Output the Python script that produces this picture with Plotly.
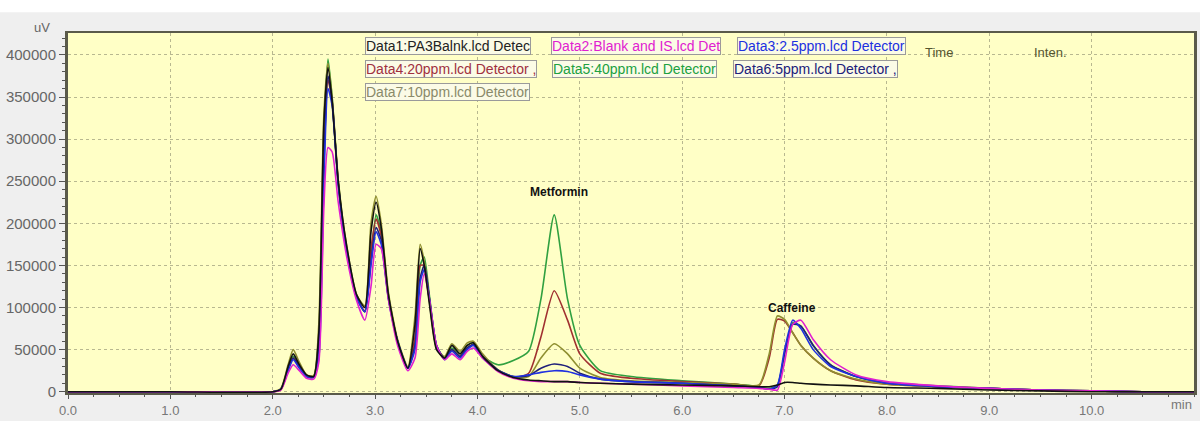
import plotly.graph_objects as go

# ---------------- data (retention time in min, intensity in thousand uV) ----------------
time_min = [0.0, 1.0, 2.0, 2.08, 2.15, 2.2, 2.26, 2.33, 2.4, 2.45,
            2.5, 2.54, 2.58, 2.64, 2.72, 2.82, 2.9, 2.96, 3.01, 3.06,
            3.13, 3.22, 3.32, 3.39, 3.44, 3.48, 3.53, 3.6, 3.68, 3.75,
            3.83, 3.9, 3.96, 4.05, 4.2, 4.35, 4.5, 4.62, 4.75, 4.88,
            5.0, 5.2, 5.5, 6.0, 6.5, 6.75, 6.85, 6.93, 7.0, 7.08,
            7.16, 7.28, 7.45, 7.7, 8.0, 8.5, 9.0, 9.5, 10.0, 10.5, 11.0]

data1_blank = [0, 0, 0, 3, 30, 45, 32, 20, 18, 70,
               320, 385, 345, 250, 175, 115, 100, 190, 225, 195,
               115, 60, 28, 80, 170, 150, 105, 50, 40, 55,
               45, 55, 58, 42, 25, 17, 14, 13, 12, 12,
               11, 10, 9, 8, 7, 6, 6, 8, 11, 11,
               10, 9, 8, 7, 5, 4, 2, 1, 0, 0, 0]

data2_blank_is = [0, 0, 0, 2, 22, 32, 25, 16, 15, 35,
                  220, 290, 285, 225, 162, 108, 85, 125, 175, 170,
                  110, 55, 25, 40, 110, 140, 110, 55, 38, 45,
                  38, 48, 52, 40, 24, 16, 13, 12, 12, 12,
                  11, 10, 9, 7, 5, 4, 3, 2, 35, 80,
                  85, 62, 38, 20, 12, 7, 4, 2, 1, 0, 0]

data3_2_5ppm = [0, 0, 0, 3, 25, 38, 28, 18, 17, 40,
                250, 360, 340, 245, 170, 112, 95, 150, 190, 175,
                110, 60, 28, 50, 130, 145, 110, 55, 38, 48,
                40, 50, 55, 40, 25, 18, 20, 23, 25, 24,
                20, 15, 12, 10, 7, 5, 3, 8, 50, 85,
                75, 50, 30, 18, 10, 6, 4, 2, 1, 0, 0]

data4_20ppm = [0, 0, 0, 3, 27, 40, 30, 19, 18, 55,
               280, 370, 345, 247, 170, 112, 96, 170, 205, 185,
               112, 60, 28, 65, 150, 150, 110, 52, 39, 50,
               42, 52, 56, 42, 25, 17, 22, 65, 120, 85,
               45, 22, 16, 12, 9, 7, 40, 86, 84, 70,
               55, 40, 25, 14, 9, 6, 4, 2, 1, 0, 0]

data5_40ppm = [0, 0, 0, 3, 28, 42, 30, 19, 18, 65,
               310, 395, 350, 250, 170, 112, 95, 160, 210, 190,
               115, 60, 28, 60, 150, 160, 115, 55, 40, 52,
               45, 55, 58, 42, 32, 37, 48, 110, 210, 110,
               55, 25, 18, 13, 9, 6, 4, 8, 45, 82,
               78, 55, 32, 18, 11, 7, 4, 2, 1, 0, 0]

data6_5ppm = [0, 0, 0, 3, 26, 40, 29, 18, 17, 50,
              270, 375, 345, 247, 170, 112, 95, 155, 195, 180,
              112, 60, 28, 55, 135, 150, 112, 55, 39, 50,
              42, 52, 56, 42, 26, 18, 19, 28, 33, 30,
              22, 15, 12, 10, 7, 5, 3, 6, 45, 80,
              78, 55, 32, 18, 10, 6, 4, 2, 1, 0, 0]

data7_10ppm = [0, 0, 0, 4, 32, 50, 35, 20, 19, 80,
               330, 390, 350, 252, 175, 115, 102, 200, 232, 200,
               118, 62, 30, 90, 175, 155, 108, 52, 42, 57,
               48, 58, 60, 45, 26, 18, 18, 40, 57, 45,
               28, 17, 13, 11, 9, 8, 45, 90, 86, 70,
               55, 40, 25, 15, 9, 6, 4, 2, 1, 0, 0]

series_names = ["Data1:PA3Balnk.lcd Detector", "Data2:Blank and IS.lcd Detector",
                "Data3:2.5ppm.lcd Detector", "Data4:20ppm.lcd Detector",
                "Data5:40ppm.lcd Detector", "Data6:5ppm.lcd Detector",
                "Data7:10ppm.lcd Detector"]
series_values = [data1_blank, data2_blank_is, data3_2_5ppm, data4_20ppm,
                 data5_40ppm, data6_5ppm, data7_10ppm]

legend_labels = ["Data1:PA3Balnk.lcd Detec", "Data2:Blank and IS.lcd Det",
                 "Data3:2.5ppm.lcd Detector", "Data4:20ppm.lcd Detector ,",
                 "Data5:40ppm.lcd Detector", "Data6:5ppm.lcd Detector ,",
                 "Data7:10ppm.lcd Detector"]

x_tick_vals = [0, 1, 2, 3, 4, 5, 6, 7, 8, 9, 10]
x_tick_text = ["0.0", "1.0", "2.0", "3.0", "4.0", "5.0", "6.0", "7.0", "8.0", "9.0", "10.0"]
y_tick_vals = [0, 50000, 100000, 150000, 200000, 250000, 300000, 350000, 400000]

peak_labels = ["Metformin", "Caffeine"]
peak_label_pos = [(4.8, 237000), (7.07, 99000)]

for v in series_values:
    assert len(v) == len(time_min)

# ---------------- styling ----------------
colors = ["#111111", "#e020d0", "#2030e0", "#a03030", "#30a040", "#20207a", "#8f8f30"]
draw_order = [4, 3, 6, 5, 2, 1, 0]

W, H = 1200, 421
L, R, T, B = 68, 3, 33, 23
pw, ph = W - L - R, H - T - B


def px(x):
    return (x - L) / pw


def py(y):
    return (H - B - y) / ph


fig = go.Figure()
for i in draw_order:
    fig.add_trace(go.Scatter(
        x=time_min, y=[v * 1000 for v in series_values[i]],
        mode="lines", name=series_names[i],
        line=dict(color=colors[i], width=1.6, shape="spline", smoothing=0.6),
        showlegend=False))

font_main = "Liberation Sans"

annotations = []
legend_pos = [(366, 46), (552, 46), (739, 46), (366, 70), (553, 70), (735, 70), (366, 93)]
legend_colors = ["#222222", "#e020d0", "#2030e0", "#a03040", "#20a040", "#20207a", "#8a8a6a"]
for lab, (lx, ly), c in zip(legend_labels, legend_pos, legend_colors):
    annotations.append(dict(
        text=lab, xref="paper", yref="paper", x=px(lx), y=py(ly),
        xanchor="left", yanchor="middle", showarrow=False,
        font=dict(family=font_main, size=14, color=c),
        bgcolor="#fbfbe6", bordercolor="#9a9a9a", borderwidth=1, borderpad=0))
annotations.append(dict(text="Time", xref="paper", yref="paper", x=px(957), y=py(43),
                        showarrow=False, font=dict(family=font_main, size=13, color="#555530")))
annotations.append(dict(text="Inten.", xref="paper", yref="paper", x=px(1072), y=py(43),
                        showarrow=False, font=dict(family=font_main, size=13, color="#555530")))
for lab, (tx, ty) in zip(peak_labels, peak_label_pos):
    annotations.append(dict(text="<b>" + lab + "</b>", x=tx, y=ty, xref="x", yref="y",
                            showarrow=False, font=dict(family=font_main, size=12, color="#111111")))
annotations.append(dict(text="uV", xref="paper", yref="paper", x=px(32), y=py(18),
                        showarrow=False, font=dict(family=font_main, size=13, color="#666666")))
annotations.append(dict(text="min", xref="paper", yref="paper", x=px(1184), y=py(410),
                        xanchor="center", yanchor="middle", showarrow=False,
                        font=dict(family=font_main, size=13, color="#777777")))

shapes = [dict(type="rect", xref="paper", yref="paper", x0=px(-5), x1=px(1205),
               y0=py(12), y1=py(-5), fillcolor="#ffffff", line=dict(width=0), layer="below")]

fig.update_layout(
    width=W, height=H,
    margin=dict(l=L, r=R, t=T, b=B, pad=0),
    paper_bgcolor="#efefef", plot_bgcolor="#ffffc6",
    annotations=annotations, shapes=shapes,
    xaxis=dict(range=[0, 11], tickvals=x_tick_vals, ticktext=x_tick_text,
               showgrid=True, gridcolor="#b8b890", griddash="dot", gridwidth=1,
               ticks="outside", ticklen=4, tickcolor="#555555", tickwidth=1,
               minor=dict(dtick=0.25, ticks="outside", ticklen=2, tickcolor="#555555", showgrid=False),
               showline=True, linecolor="#5a5a4a", linewidth=2, mirror=True,
               zeroline=False,
               tickfont=dict(family=font_main, size=13, color="#777777")),
    yaxis=dict(range=[-1500, 426000], tickvals=y_tick_vals, tickformat="d",
               showgrid=True, gridcolor="#b8b890", griddash="dot", gridwidth=1,
               ticks="outside", ticklen=6, tickcolor="#555555", tickwidth=1,
               minor=dict(dtick=10000, ticks="outside", ticklen=3, tickcolor="#555555", showgrid=False),
               showline=True, linecolor="#5a5a4a", linewidth=3, mirror=True,
               zeroline=False,
               tickfont=dict(family=font_main, size=15, color="#666666")),
)

fig.write_html("out.html", config={"displayModeBar": False},
               post_script="document.body.style.margin='0';document.body.style.padding='0';")
